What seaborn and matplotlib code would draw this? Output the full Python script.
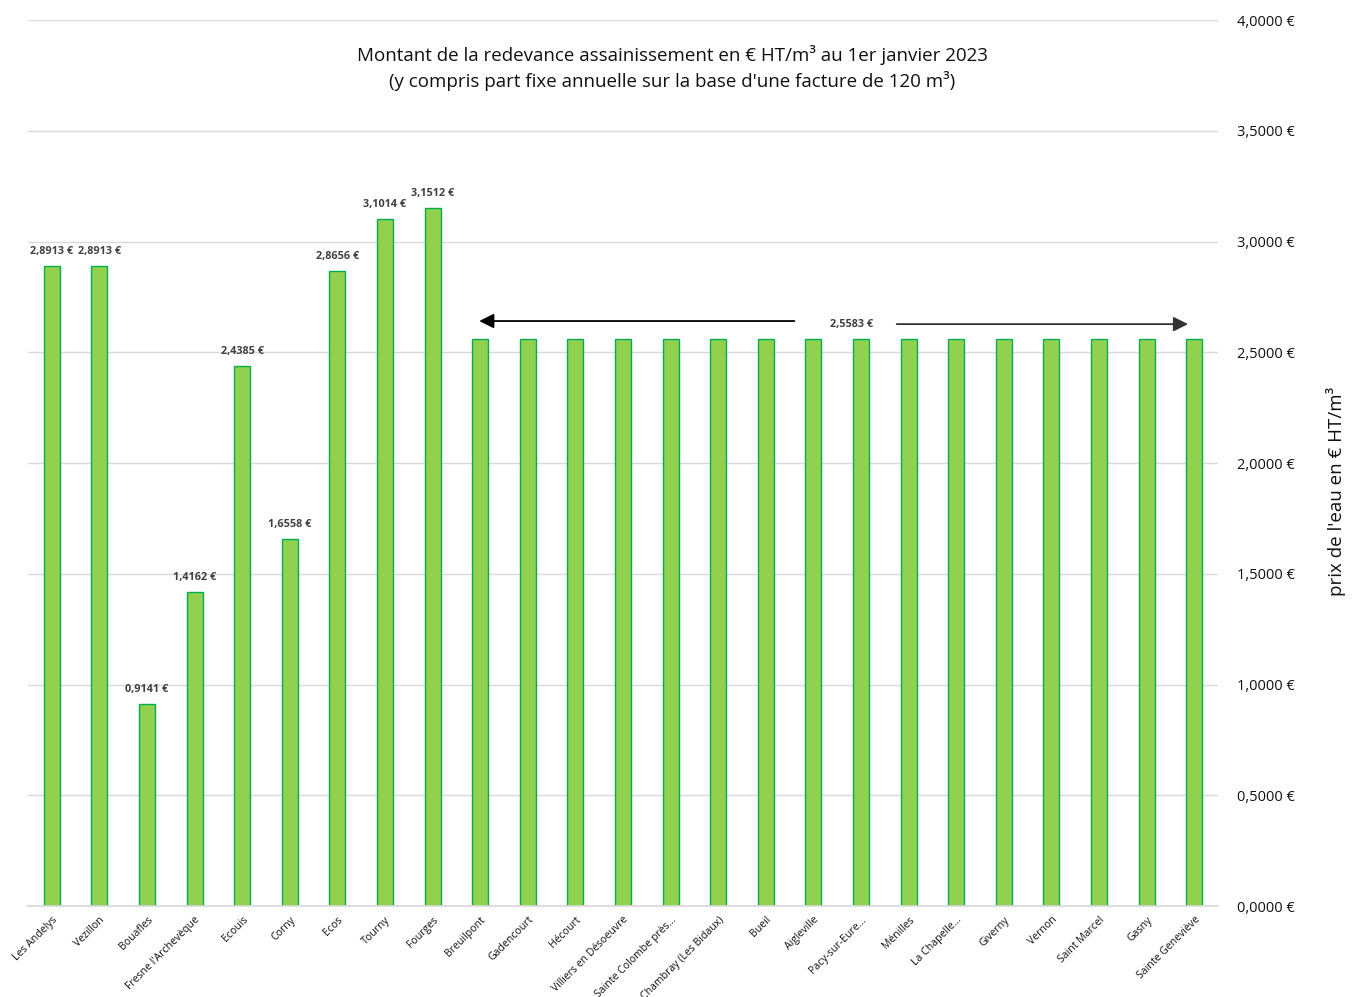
import numpy as np
import pandas as pd
import matplotlib
matplotlib.use("Agg")
import matplotlib.pyplot as plt
import seaborn as sns
from matplotlib.ticker import FuncFormatter, MultipleLocator

# data
communes = ["Les Andelys", "Vezillon", "Bouafles", "Fresne l'Archevèque", "Ecouis",
            "Corny", "Ecos", "Tourny", "Fourges", "Breuilpont", "Gadencourt",
            "Hécourt", "Villiers en Désoeuvre", "Sainte Colombe près...",
            "Chambray (Les Bidaux)", "Bueil", "Aigleville", "Pacy-sur-Eure...",
            "Ménilles", "La Chapelle...", "Giverny", "Vernon", "Saint Marcel",
            "Gasny", "Sainte Geneviève"]
prix = [2.8913, 2.8913, 0.9141, 1.4162, 2.4385, 1.6558, 2.8656, 3.1014, 3.1512,
        2.5583, 2.5583, 2.5583, 2.5583, 2.5583, 2.5583, 2.5583, 2.5583, 2.5583,
        2.5583, 2.5583, 2.5583, 2.5583, 2.5583, 2.5583, 2.5583]
n_labelled = 9  # only the first bars get their own label
commun_prix = 2.5583

df = pd.DataFrame({"commune": communes, "prix": prix})

sns.set_theme(style="white")
plt.rcParams["font.family"] = ["Open Sans", "DejaVu Sans"]

def euro(v, pos=None):
    return f"{v:.4f}".replace(".", ",") + " €"

fig = plt.figure(figsize=(13.52, 9.97), dpi=100)
ax = fig.add_axes([28 / 1352, 1 - 906 / 997, 1190 / 1352, 886 / 997])

sns.barplot(data=df, x="commune", y="prix", ax=ax, color="#92D050",
            saturation=1, width=0.34, edgecolor="#00B050", linewidth=1)

ax.set_xlim(-0.5, len(communes) - 0.5)
ax.set_ylim(0, 4)
ax.yaxis.set_major_locator(MultipleLocator(0.5))
ax.yaxis.set_major_formatter(FuncFormatter(euro))
ax.yaxis.tick_right()
ax.yaxis.set_label_position("right")
ax.grid(axis="y", color="#D9D9D9", linewidth=1)
ax.set_axisbelow(True)
for s in ["top", "left", "right"]:
    ax.spines[s].set_visible(False)
ax.spines["bottom"].set_color("#D9D9D9")

ax.tick_params(axis="y", length=0, pad=14, labelsize=10.5, labelcolor="#111111")
ax.set_xticks(range(len(communes)))
ax.set_xticklabels(communes, rotation=45, ha="right", rotation_mode="anchor",
                   fontsize=7.6, color="#111111")
ax.tick_params(axis="x", which="major", length=0, pad=6)
ax.set_xticks(np.arange(-0.5, len(communes), 1), minor=True)
ax.tick_params(axis="x", which="minor", length=5, color="#D9D9D9", width=1)
ax.set_xlabel("")
ax.set_ylabel("prix de l'eau en € HT/m³", fontsize=13.5, color="#111111")
ax.yaxis.set_label_coords(1.091, 0.468)

# labels above the first bars
for i in range(n_labelled):
    ax.text(i, prix[i] + 0.04, euro(prix[i]), ha="center", va="bottom",
            fontsize=7.8, fontweight="bold", color="#404040")

# shared price for the remaining communes
ax.annotate("", xy=(8.98, 2.641), xytext=(15.6, 2.641),
            arrowprops=dict(arrowstyle="-|>", color="black", lw=1.3,
                            mutation_scale=22, shrinkA=0, shrinkB=0))
ax.annotate("", xy=(23.87, 2.627), xytext=(17.75, 2.627),
            arrowprops=dict(arrowstyle="-|>", color="#333333", lw=1.3,
                            mutation_scale=22, shrinkA=0, shrinkB=0))
ax.text(16.8, 2.627, euro(commun_prix), ha="center", va="center",
        fontsize=7.8, fontweight="bold", color="#404040")

fig.text(672 / 1352, 1 - 55 / 997,
         "Montant de la redevance assainissement en € HT/m³ au 1er janvier 2023",
         ha="center", va="center", fontsize=13.5, color="#111111")
fig.text(672 / 1352, 1 - 81 / 997,
         "(y compris part fixe annuelle sur la base d'une facture de 120 m³)",
         ha="center", va="center", fontsize=13.5, color="#111111")

fig.savefig("out.png", dpi=100)
